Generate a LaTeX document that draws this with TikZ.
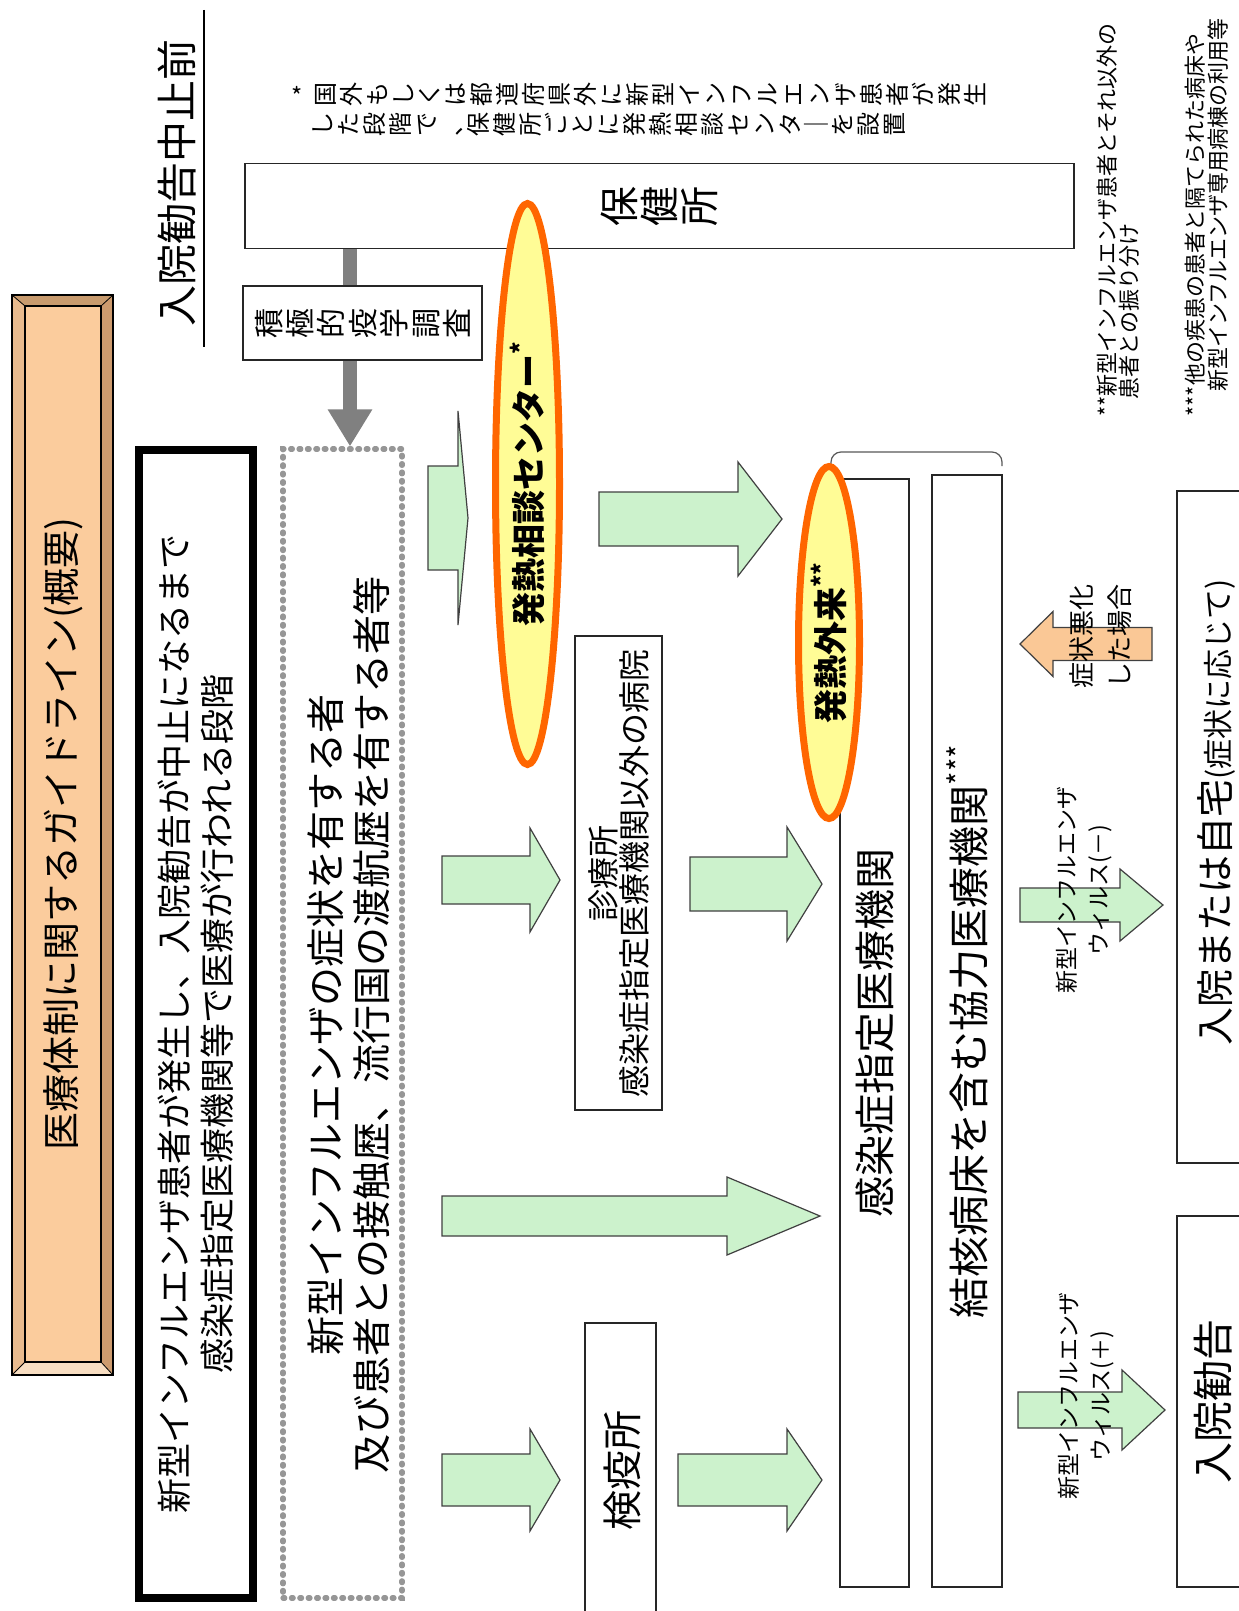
\documentclass[tikz,border=0pt]{standalone}
\usepackage{fontspec}
\setmainfont{Noto Sans CJK JP}
\usetikzlibrary{shapes.geometric,arrows.meta}
\definecolor{agreen}{RGB}{204,242,204}
\definecolor{aorange}{RGB}{250,200,150}
\definecolor{eyellow}{RGB}{255,252,150}
\definecolor{eorange}{RGB}{255,102,0}
\definecolor{tanface}{RGB}{251,204,157}
\definecolor{tantop}{RGB}{200,155,110}
\definecolor{tanleft}{RGB}{232,186,142}
\definecolor{tanright}{RGB}{205,155,110}
\definecolor{tanbottom}{RGB}{248,222,194}
\definecolor{dotgray}{RGB}{150,150,150}
\tikzset{
  box/.style={draw=black!85, line width=0.6pt, fill=white},
  rtext/.style={rotate=90, inner sep=0pt, align=center},
  blockg/.style={draw=black!75, line width=0.6pt, fill=agreen},
  blocko/.style={draw=black!75, line width=0.6pt, fill=aorange},
  fever/.style={ellipse, draw=eorange, line width=3.5pt, fill=eyellow, rotate=90, inner sep=0pt, font=\bfseries\fontsize{17}{17}\selectfont},
  grayarrow/.style={line width=7pt, draw=gray, -{Triangle[width=21pt,length=18.5pt]}},
}
\newcommand\blockarrow[7]{\draw[#1] (#2,#5-#6) -- (#3,#5-#6) -- (#3,#5-#7) -- (#4,#5) -- (#3,#5+#7) -- (#3,#5+#6) -- (#2,#5+#6) -- cycle;}
\begin{document}
\begin{tikzpicture}[x=0.5pt,y=-0.5pt]
\useasboundingbox (0,0) rectangle (1238,1611);
\fill[white] (0,0) rectangle (1238,1611);

% title plate
\fill[tantop] (12,295) -- (113,295) -- (101,306) -- (25,306) -- cycle;
\fill[tanleft] (12,295) -- (25,306) -- (25,1362) -- (12,1375) -- cycle;
\fill[tanright] (113,295) -- (101,306) -- (101,1362) -- (113,1375) -- cycle;
\fill[tanbottom] (12,1375) -- (25,1362) -- (101,1362) -- (113,1375) -- cycle;
\fill[tanface] (25,306) rectangle (101,1362);
\draw[line width=0.6pt] (12,295) rectangle (113,1375);
\draw[line width=0.6pt] (25,306) rectangle (101,1362);
\draw[line width=0.4pt] (12,295) -- (25,306) (113,295) -- (101,306) (12,1375) -- (25,1362) (113,1375) -- (101,1362);
\node[rtext, font=\fontsize{19}{19}\selectfont] (title) at (63,834) {医療体制に関するガイドライン(概要)};

% phase label
\node[rtext, font=\fontsize{20.5}{20.5}\selectfont] (phase) at (177,183) {入院勧告中止前};
\coordinate (pl1) at (204,10);
\coordinate (pl2) at (204,347);
\draw[line width=0.8pt] (pl1) -- (pl2);

% note
\node[font=\fontsize{12}{12}\selectfont, inner sep=0pt] (noteast) at (297,96) {*};
\node[rtext, anchor=north, font=\fontsize{12}{13}\selectfont] (note1) at (315,94) {国\\外\\も\\し\\く\\は\\都\\道\\府\\県\\外\\に\\新\\型\\イ\\ン\\フ\\ル\\エ\\ン\\ザ\\患\\者\\が\\発\\生};
\node[rtext, anchor=north, font=\fontsize{12}{13}\selectfont] (note2) at (312,124) {し\\た\\段\\階\\で\\、\\保\\健\\所\\ご\\と\\に\\発\\熱\\相\\談\\セ\\ン\\タ\\｜\\を\\設\\置};

% health centre + survey
\node[box, rtext, minimum width=42.5pt, minimum height=414.5pt, font=\fontsize{20}{20}\selectfont] (hokenjo) at (659.5,206) {保\\健\\所};
\coordinate (ga) at (350,0);
\node[draw=dotgray, line width=2.6pt, dash pattern=on 0.9pt off 3.3pt, line cap=round, minimum width=59.5pt, minimum height=574.5pt, inner sep=0pt] (dotted) at (342.5,1023.5) {};
\draw[grayarrow] (hokenjo.west -| ga) -- (dotted.north -| ga);
\node[box, rtext, minimum width=37pt, minimum height=119.5pt, font=\fontsize{15}{15.7}\selectfont] (survey) at (362.5,323) {積\\極\\的\\疫\\学\\調\\査};

% black box
\node[draw=black, line width=4pt, fill=white, rtext, minimum width=574pt, minimum height=57pt, font=\fontsize{17.5}{21.5}\selectfont] (stage) at (196,1024) {新型インフルエンザ患者が発生し、入院勧告が中止になるまで\\感染症指定医療機関等で医療が行われる段階};

% dotted box text
\node[rtext, font=\fontsize{19.5}{23}\selectfont] (persons) at (349,1025) {新型インフルエンザの症状を有する者\\及び患者との接触歴、流行国の渡航歴を有する者等};

% boxes
\node[box, rtext, minimum width=237pt, minimum height=43.5pt, font=\fontsize{16}{15.5}\selectfont] (clinic) at (618.5,873) {診療所\\感染症指定医療機関以外の病院};
\node[box, minimum width=35.5pt, minimum height=153.5pt, inner sep=0pt] (quarantine) at (620.5,1476.5) {};
\node[rtext, font=\fontsize{20}{20}\selectfont] (quarantinetext) at (622,1470) {検疫所};
\node[box, rtext, minimum width=554pt, minimum height=34.5pt, font=\fontsize{20.5}{20.5}\selectfont] (designated) at (874.5,1033) {感染症指定医療機関};
\node[box, rtext, minimum width=556pt, minimum height=35pt, font=\fontsize{20.5}{20.5}\selectfont] (coop) at (967,1031) {結核病床を含む協力医療機関\textsuperscript{***}};
\coordinate (br1) at (831,466);
\coordinate (br2) at (1002,466);
\draw[gray!70!black, line width=0.6pt, rounded corners=5pt] (br1) -- (831,452) -- (1002,452) -- (br2);
\node[box, minimum width=36.5pt, minimum height=336pt, inner sep=0pt] (home) at (1213.5,827) {};
\node[rtext] (hometext) at (1216,812) {{\fontsize{19}{19}\selectfont 入院または自宅}{\fontsize{15}{15}\selectfont (症状に応じて)}};
\node[box, rtext, minimum width=185.5pt, minimum height=36.5pt, font=\fontsize{20.5}{20.5}\selectfont] (admit) at (1213.5,1401.5) {入院勧告};

% block arrows
\blockarrow{blockg}{428}{458}{468}{518}{52}{107}
\blockarrow{blockg}{599}{738}{782}{519}{27}{57}
\blockarrow{blockg}{442}{530}{560}{880}{24}{52}
\blockarrow{blockg}{690}{787}{822}{884}{27}{57}
\blockarrow{blockg}{442}{727}{820}{1216}{20}{39}
\blockarrow{blockg}{442}{530}{560}{1480}{26}{51}
\blockarrow{blockg}{678}{787}{822}{1480}{26}{51}
\blockarrow{blockg}{1020}{1120}{1163}{905}{17}{36}
\blockarrow{blockg}{1018}{1122}{1165}{1410}{18}{40}
\blockarrow{blocko}{1152}{1053}{1020}{644}{16.5}{32.5}

% ellipses
\node[fever, minimum width=280.5pt, minimum height=32pt] (consult) at (527.5,484) {発熱相談センター\textsuperscript{*}};
\node[fever, minimum width=176pt, minimum height=30.5pt] (feverclinic) at (829,642.5) {発熱外来\textsuperscript{**}};

% arrow labels
\node[rtext, font=\fontsize{11.5}{16}\selectfont] (minuslabel) at (1084,890) {新型インフルエンザ\\ウィルス(－)};
\node[rtext, font=\fontsize{11.5}{16}\selectfont] (pluslabel) at (1086,1396) {新型インフルエンザ\\ウィルス(＋)};
\node[rtext, font=\fontsize{13}{19}\selectfont] (worse) at (1101,636) {症状悪化\\した場合};

% footnotes
\node[rtext, anchor=west, align=left, font=\fontsize{11}{10}\selectfont] (fn2) at (1118,417) {**新型インフルエンザ患者とそれ以外の\\\hspace*{8.5pt}患者との振り分け};
\node[rtext, anchor=west, align=left, font=\fontsize{11}{11.5}\selectfont] (fn3) at (1206.5,417) {***他の疾患の患者と隔てられた病床や\\\hspace*{12.5pt}新型インフルエンザ専用病棟の利用等};
\end{tikzpicture}
\end{document}
